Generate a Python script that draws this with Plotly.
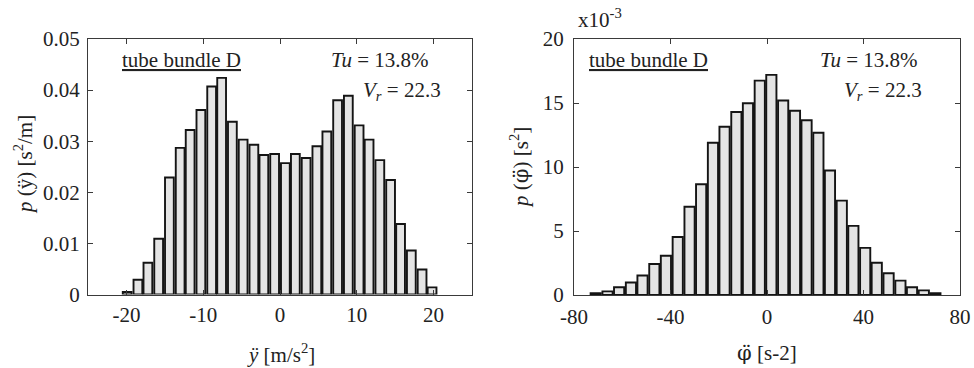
import plotly.graph_objects as go

# ---- data ----
y_acc_centers = [-19.9, -18.5, -17.2, -15.8, -14.4, -13.0, -11.7, -10.3, -8.9, -7.6,
                 -6.2, -4.8, -3.4, -2.1, -0.7, 0.7, 2.0, 3.4, 4.8, 6.1,
                 7.5, 8.9, 10.3, 11.6, 13.0, 14.4, 15.7, 17.1, 18.5, 19.8]
y_acc_pdf = [0.0005, 0.0029, 0.0062, 0.0109, 0.0229, 0.0287, 0.0322, 0.0361, 0.0407, 0.0424,
             0.0338, 0.0303, 0.0293, 0.0273, 0.0275, 0.0257, 0.0275, 0.0267, 0.0290, 0.0319,
             0.0380, 0.0389, 0.0331, 0.0303, 0.0263, 0.0224, 0.0138, 0.0086, 0.0049, 0.0014]

phi_acc_centers = [-71.0, -66.1, -61.3, -56.4, -51.6, -46.7, -41.9, -37.0, -32.1, -27.3,
                   -22.4, -17.6, -12.7, -7.9, -3.0, 1.8, 6.7, 11.6, 16.4, 21.3,
                   26.1, 31.0, 35.8, 40.7, 45.5, 50.4, 55.3, 60.1, 65.0, 69.8]
phi_acc_pdf_e3 = [0.15, 0.28, 0.6, 0.98, 1.52, 2.42, 3.07, 4.53, 6.9, 8.65,
                  11.9, 13.15, 14.3, 14.98, 16.75, 17.2, 15.2, 14.4, 13.65, 12.68,
                  9.73, 7.37, 5.4, 3.68, 2.52, 1.7, 1.12, 0.6, 0.36, 0.15]

x1_ticks = [-20, -10, 0, 10, 20]
x1_labels = ["-20", "-10", "0", "10", "20"]
y1_ticks = [0, 0.01, 0.02, 0.03, 0.04, 0.05]
y1_labels = ["0", "0.01", "0.02", "0.03", "0.04", "0.05"]
x2_ticks = [-80, -40, 0, 40, 80]
x2_labels = ["-80", "-40", "0", "40", "80"]
y2_ticks = [0, 5, 10, 15, 20]
y2_labels = ["0", "5", "10", "15", "20"]

W, H = 974, 368
FONT = "Liberation Serif, Times New Roman, serif"
FILL = "#e4e4e4"
EDGE = "#141414"
FS = 21

def px(x):
    return x / W

def py(y):
    return 1 - y / H

fig = go.Figure()
fig.add_trace(go.Bar(x=y_acc_centers, y=y_acc_pdf, xaxis="x", yaxis="y",
                     marker=dict(color=FILL, line=dict(color=EDGE, width=1.9)),
                     showlegend=False))
fig.add_trace(go.Bar(x=phi_acc_centers, y=phi_acc_pdf_e3, xaxis="x2", yaxis="y2",
                     marker=dict(color=FILL, line=dict(color=EDGE, width=1.9)),
                     showlegend=False))

axis_common = dict(showline=True, linecolor="#3a3a3a", linewidth=1, mirror="ticks",
                   ticks="inside", ticklen=5, tickcolor="#3a3a3a", tickwidth=1,
                   showgrid=False, zeroline=False, automargin=False,
                   tickfont=dict(family=FONT, size=FS, color="#222"))

fig.update_layout(
    width=W, height=H,
    margin=dict(l=0, r=0, t=0, b=0),
    paper_bgcolor="white", plot_bgcolor="white",
    bargap=0.12,
    xaxis=dict(domain=[px(88), px(472)], range=[-25, 25], tickvals=x1_ticks,
               ticktext=x1_labels, anchor="y", ticklabelstandoff=1, **axis_common),
    yaxis=dict(domain=[py(294.5), py(39)], range=[0, 0.05], tickvals=y1_ticks,
               ticktext=y1_labels, anchor="x", ticklabelstandoff=3, **axis_common),
    xaxis2=dict(domain=[px(574), px(960)], range=[-80, 80], tickvals=x2_ticks,
                ticktext=x2_labels, anchor="y2", ticklabelstandoff=3, **axis_common),
    yaxis2=dict(domain=[py(295), py(39)], range=[0, 20], tickvals=y2_ticks,
                ticktext=y2_labels, anchor="x2", ticklabelstandoff=5, **axis_common),
)

PHI = '<span style="font-family:DejaVu Serif">φ̈</span>'
ann_font = dict(family=FONT, size=FS, color="#222")
anns = [
    # left panel texts
    dict(x=px(181), y=py(60), text="<u>tube bundle D</u>", xanchor="center"),
    dict(x=px(329), y=py(60), text="<i>Tu</i> = 13.8%", xanchor="left"),
    dict(x=px(361), y=py(91), text="<i>V<sub>r</sub></i> = 22.3", xanchor="left"),
    # right panel texts
    dict(x=px(648), y=py(60), text="<u>tube bundle D</u>", xanchor="center"),
    dict(x=px(818), y=py(60), text="<i>Tu</i> = 13.8%", xanchor="left"),
    dict(x=px(842), y=py(91), text="<i>V<sub>r</sub></i> = 22.3", xanchor="left"),
    # multiplier
    dict(x=px(576), y=py(18), text="x10<sup>-3</sup>", xanchor="left"),
    # axis titles
    dict(x=px(281), y=py(353), text="<i>ÿ</i> [m/s<sup>2</sup>]", xanchor="center"),
    dict(x=px(767), y=py(353), text=PHI + " [s-2]", xanchor="center"),
    dict(x=px(23), y=py(165), text="<i>p</i> (ÿ) [s<sup>2</sup>/m]", textangle=-90,
         xanchor="center"),
    dict(x=px(519), y=py(168), text="<i>p</i> (" + PHI + ") [s<sup>2</sup>]", textangle=-90,
         xanchor="center"),
]
for a in anns:
    a.setdefault("yanchor", "middle")
    fig.add_annotation(xref="paper", yref="paper", showarrow=False,
                       font=ann_font, **a)

fig.write_html("out.html")
